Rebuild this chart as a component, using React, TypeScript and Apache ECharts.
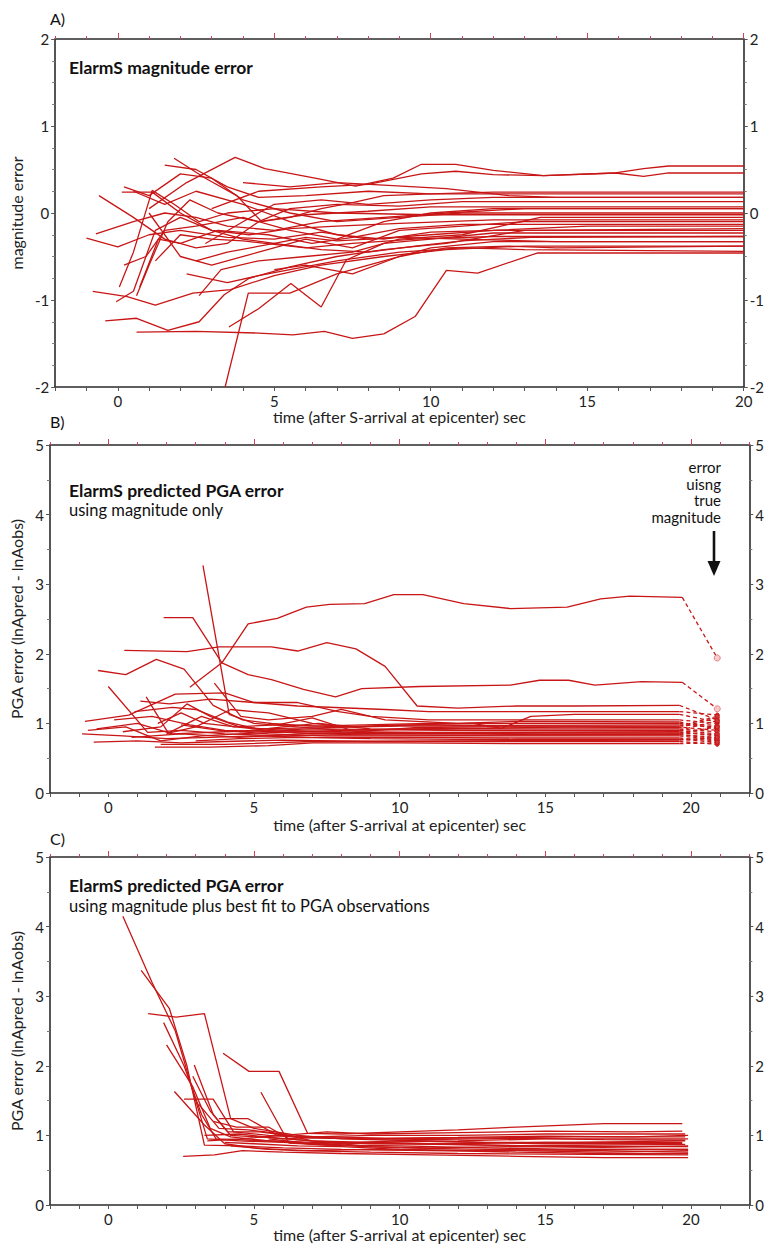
import React, { useEffect, useRef } from "react";
import * as echarts from "echarts";

// ---------- tick labels ----------
const timeTickLabels = [0, 5, 10, 15, 20];
const timeMajorTicks = [0, 5, 10, 15, 20];
const magTickValues = [-2, -1, 0, 1, 2];
const pgaTickValues = [0, 1, 2, 3, 4, 5];

// ---------- panel A: magnitude error (time, error) ----------
const magErrLines: number[][][] = [
  [[1.8, 0.63], [2.8, 0.4], [3.8, 0.2], [4.6, -0.1], [5.5, -0.05], [6.5, 0.05], [7.5, 0.12], [8.5, 0.2], [10, 0.22], [12, 0.24], [14, 0.24], [20, 0.24]],
  [[1.0, 0.05], [2.2, 0.35], [3.75, 0.64], [4.7, 0.51], [6.3, 0.4], [7.6, 0.31], [8.8, 0.4], [9.7, 0.56], [10.8, 0.56], [12, 0.49], [13.6, 0.43], [15.9, 0.46], [16.8, 0.51], [17.6, 0.54], [20, 0.54]],
  [[3.0, 0.05], [4.5, 0.25], [6.5, 0.3], [8.0, 0.33], [9.7, 0.45], [10.8, 0.48], [12, 0.44], [13.6, 0.43], [15.9, 0.46], [16.8, 0.42], [17.6, 0.46], [20, 0.46]],
  [[-1.0, -0.29], [0.0, -0.39], [1.0, -0.25], [2.0, -0.2], [3.5, -0.28], [5, -0.3], [6.5, -0.22], [8, -0.3], [10, -0.25], [12, -0.2], [14, -0.2], [20, -0.2]],
  [[-0.6, 0.2], [0.5, -0.05], [1.5, -0.3], [2.5, -0.4], [3.5, -0.35], [4.5, -0.1], [5.5, 0.05], [7, 0.1], [9, 0.08], [11, 0.13], [20, 0.13]],
  [[-0.7, -0.24], [0.5, -0.1], [1.5, 0.0], [2.5, -0.05], [3.5, -0.15], [5, -0.2], [6.5, -0.1], [8.5, -0.05], [10.5, 0.0], [13, 0.05], [20, 0.05]],
  [[0.13, 0.24], [1.1, 0.24], [2.0, 0.0], [3.0, -0.2], [4.0, -0.3], [5.0, -0.35], [6.0, -0.28], [7.0, -0.32], [9.0, -0.28], [11, -0.3], [14, -0.33], [20, -0.33]],
  [[0.05, -0.85], [0.5, -0.45], [1.1, 0.26], [1.8, 0.1], [2.6, -0.1], [3.5, 0.0], [5.0, 0.05], [7, 0.0], [10, -0.02], [20, -0.02]],
  [[-0.05, -1.02], [0.5, -0.9], [1.2, -0.2], [2.0, -0.05], [3.0, -0.2], [4.2, -0.25], [5.5, -0.18], [7, -0.15], [9, -0.12], [12, -0.08], [20, -0.08]],
  [[0.6, -0.95], [1.0, -0.6], [1.6, -0.1], [2.3, 0.15], [3.2, 0.0], [4.5, -0.1], [6, -0.02], [8, 0.02], [10, 0.07], [20, 0.07]],
  [[0.7, -0.85], [1.3, -0.3], [2.0, -0.35], [3.2, -0.2], [4.8, -0.25], [6.2, -0.35], [7.5, -0.28], [9, -0.18], [11, -0.13], [20, -0.13]],
  [[1.2, -0.55], [2.0, -0.25], [3.0, -0.3], [4.0, -0.32], [6.0, -0.4], [7.5, -0.35], [9.5, -0.3], [12, -0.27], [20, -0.27]],
  [[-0.8, -0.9], [0.3, -0.96], [1.2, -1.06], [2.4, -0.92], [3.6, -0.88], [5.0, -0.72], [6.5, -0.6], [8.5, -0.5], [10.5, -0.42], [13, -0.38], [20, -0.38]],
  [[-0.4, -1.24], [0.6, -1.21], [1.6, -1.35], [2.6, -1.25], [3.4, -0.94], [4.2, -0.75], [5.5, -0.62], [7, -0.5], [8.5, -0.42], [10.5, -0.35], [13, -0.2], [20, -0.18]],
  [[0.6, -1.37], [2.5, -1.36], [4.5, -1.38], [5.6, -1.4], [6.6, -1.36], [7.5, -1.44], [8.5, -1.39], [9.5, -1.19], [10.5, -0.66], [11.5, -0.69], [13.4, -0.46], [20, -0.46]],
  [[3.43, -2.0], [4.17, -0.92], [5.5, -0.92], [7.0, -0.7], [8.5, -0.55], [10, -0.4], [12, -0.33], [20, -0.33]],
  [[3.55, -1.31], [4.5, -1.1], [5.53, -0.81], [6.5, -1.08], [7.3, -0.54], [8.5, -0.35], [10, -0.3], [12, -0.23], [20, -0.23]],
  [[2.2, -0.7], [3.5, -0.8], [4.5, -0.72], [5.5, -0.65], [7, -0.55], [9, -0.45], [11, -0.4], [13, -0.42], [20, -0.44]],
  [[2.8, -0.35], [4.0, -0.1], [5.0, 0.1], [6.5, 0.15], [8, 0.1], [10, 0.15], [12, 0.18], [20, 0.18]],
  [[1.5, 0.55], [2.5, 0.5], [3.5, 0.3], [4.5, 0.18], [6, 0.2], [8, 0.25], [10, 0.22], [12, 0.22], [20, 0.22]],
  [[0.2, 0.3], [1.0, 0.2], [2.0, 0.45], [3.0, 0.4], [4.0, 0.15], [5.5, 0.0], [7.0, -0.1], [9, -0.05], [11, 0.0], [20, 0.0]],
  [[4.0, 0.35], [5.5, 0.3], [7, 0.35], [8.5, 0.32], [10.5, 0.28], [12.5, 0.2], [14, 0.18], [20, 0.18]],
  [[2.5, -0.55], [3.5, -0.45], [5, -0.35], [6.5, -0.42], [8, -0.45], [9.5, -0.38], [11, -0.32], [13.2, -0.28], [20, -0.27]],
  [[1.0, 0.0], [2.0, -0.5], [3, -0.6], [4.5, -0.45], [6, -0.3], [7.5, -0.4], [9, -0.2], [11, -0.15], [13, -0.1], [20, -0.1]],
  [[0.5, 0.25], [1.5, 0.1], [2.5, 0.25], [4, 0.1], [5.5, -0.1], [7, -0.25], [8.5, -0.3], [10, -0.22], [12, -0.2], [15, -0.15], [20, -0.15]],
  [[2.6, -0.95], [3.3, -0.65], [4.5, -0.55], [6, -0.5], [7.5, -0.45], [9, -0.3], [11, -0.25], [13.5, -0.05], [16, -0.05], [20, -0.05]],
  [[0.2, -0.6], [0.9, -0.5], [1.5, -0.2], [2.5, -0.15], [4.0, -0.05], [5.5, -0.2], [7, -0.3], [8.5, -0.1], [10, 0.0], [12, 0.05], [20, 0.05]],
  [[5.0, -0.65], [6.0, -0.6], [7.5, -0.7], [9, -0.5], [10.5, -0.4], [12.5, -0.38], [14, -0.4], [20, -0.38]],
];

// ---------- panel B: PGA error, magnitude only ----------
const pgaMagLines: number[][][] = [
  [[2.8, 1.52], [3.9, 1.87], [4.8, 2.43], [5.8, 2.51], [6.8, 2.67], [7.6, 2.71], [8.8, 2.72], [9.8, 2.85], [10.8, 2.85], [12.2, 2.72], [13.8, 2.65], [15.75, 2.67], [16.9, 2.79], [17.9, 2.83], [19.7, 2.81]],
  [[3.25, 3.27], [4.15, 1.13], [5.0, 1.0], [6.5, 0.95], [8, 0.9], [10, 0.92], [13, 0.93], [16, 0.95], [19.5, 0.95]],
  [[1.9, 2.52], [2.9, 2.52], [3.9, 1.87], [4.8, 1.7], [5.6, 1.63], [6.7, 1.49], [7.8, 1.38], [8.7, 1.5], [10.7, 1.53], [13.8, 1.55], [14.8, 1.62], [15.8, 1.62], [16.7, 1.55], [18.3, 1.6], [19.7, 1.59]],
  [[0.55, 2.05], [2.7, 2.03], [3.8, 2.1], [5.6, 2.1], [6.5, 2.04], [7.5, 2.16], [8.5, 2.07], [9.5, 1.82], [10.6, 1.25], [12, 1.22], [14, 1.25], [16, 1.25], [19.6, 1.26]],
  [[-0.35, 1.76], [0.6, 1.7], [1.65, 1.92], [2.6, 1.78], [3.6, 1.26], [4.6, 1.05], [6, 0.98], [8, 0.95], [10, 0.98], [13, 0.97], [19.6, 0.98]],
  [[0, 1.53], [1.35, 0.87], [2.5, 0.9], [4, 0.85], [6, 0.82], [8, 0.84], [12, 0.83], [19.6, 0.84]],
  [[-0.8, 1.03], [0.7, 1.12], [2.3, 1.42], [4.0, 1.44], [5.0, 1.3], [6.5, 1.3], [7.9, 1.17], [9, 1.1], [11, 1.05], [13, 1.05], [19.6, 1.05]],
  [[3.64, 1.58], [4.55, 1.1], [5.5, 1.05], [7, 1.1], [8, 1.2], [9.5, 1.05], [12, 1.0], [14, 1.03], [19.6, 1.02]],
  [[1.3, 1.38], [2.06, 0.86], [3, 0.95], [4.2, 1.2], [5.5, 1.15], [7, 1.0], [9, 0.92], [12, 0.9], [19.6, 0.9]],
  [[-0.9, 0.85], [0.5, 0.82], [2, 0.78], [3.5, 0.8], [5, 0.82], [7, 0.8], [10, 0.8], [14, 0.79], [19.6, 0.79]],
  [[-0.5, 0.73], [1.0, 0.75], [2.5, 0.72], [4, 0.74], [6, 0.76], [9, 0.74], [13, 0.74], [19.6, 0.74]],
  [[1.6, 0.66], [3.5, 0.66], [5.5, 0.68], [7, 0.72], [10, 0.72], [14, 0.71], [19.6, 0.71]],
  [[0.5, 0.88], [1.8, 0.95], [2.7, 1.28], [3.5, 1.1], [4.5, 0.95], [6, 0.9], [8, 0.88], [11, 0.87], [19.6, 0.88]],
  [[0.9, 1.17], [2.2, 1.23], [3.0, 1.2], [4.1, 1.02], [5.3, 0.9], [7, 0.85], [10, 0.86], [14, 0.84], [19.6, 0.84]],
  [[2.0, 0.85], [3.2, 1.1], [4.3, 0.95], [5.8, 0.98], [7.0, 1.08], [8.5, 0.88], [10.5, 0.94], [13, 0.95], [19.6, 0.94]],
  [[1.1, 1.32], [2.1, 1.28], [3.5, 1.35], [5, 1.3], [6.5, 1.25], [9.5, 1.2], [11, 1.17], [13, 1.17], [19.6, 1.17]],
  [[4.5, 0.88], [6, 0.95], [7.2, 1.0], [8.5, 0.95], [10.5, 0.98], [12.5, 1.0], [13.5, 0.93], [14.5, 1.1], [16, 1.13], [19.6, 1.13]],
  [[-0.7, 0.9], [0.6, 0.95], [1.8, 0.75], [3.2, 0.82], [5, 0.86], [8, 0.9], [12, 0.92], [19.6, 0.92]],
  [[2.5, 0.98], [3.8, 0.9], [5.5, 0.85], [7.5, 0.82], [10, 0.82], [15, 0.82], [19.6, 0.82]],
  [[0.2, 1.05], [1.5, 1.1], [2.8, 0.98], [4, 0.9], [6, 0.88], [9, 0.87], [19.6, 0.86]],
  [[3.0, 0.75], [4.5, 0.78], [6.5, 0.8], [9, 0.78], [12, 0.77], [19.6, 0.77]],
  [[5.5, 1.0], [7, 0.96], [8.8, 0.98], [11, 1.0], [19.6, 1.0]],
  [[1.7, 1.0], [2.5, 1.15], [3.3, 1.0], [5.0, 0.92], [7.5, 0.94], [10, 0.96], [19.6, 0.96]],
  [[0.8, 0.8], [2.5, 0.85], [4.5, 0.8], [7, 0.86], [11, 0.85], [15, 0.86], [19.6, 0.86]],
  [[1.8, 0.7], [4, 0.7], [7, 0.74], [12, 0.75], [19.6, 0.76]],
  [[-0.4, 0.92], [1, 1.0], [2.2, 0.85], [4, 0.88], [7, 0.92], [12, 0.9], [19.6, 0.9]],
];
// error using true magnitude (one per line above), plotted at t = 20.9
const trueMagTime = 20.9;
const trueMagErrors = [1.94, 0.9, 1.21, 1.05, 0.95, 0.8, 1.0, 0.92, 0.85, 0.75, 0.7, 0.72, 0.82, 0.78, 1.08, 1.12, 1.02, 0.88, 0.76, 0.84, 0.73, 0.97, 1.1, 0.95, 0.8, 1.04];

// ---------- panel C: PGA error, magnitude + best fit ----------
const pgaFitLines: number[][][] = [
  [[0.5, 4.15], [1.5, 3.2], [2.3, 2.5], [3.0, 1.5], [3.4, 0.95], [4.5, 0.92], [6, 0.9], [8, 0.86], [10, 0.85], [13, 0.82], [16, 0.8], [19.9, 0.8]],
  [[1.13, 3.37], [2.1, 2.82], [2.7, 2.0], [3.3, 0.86], [4.5, 0.85], [6, 0.82], [8, 0.8], [11, 0.78], [14, 0.78], [17, 0.76], [19.9, 0.78]],
  [[1.37, 2.75], [2.33, 2.7], [3.3, 2.75], [4.2, 1.24], [5, 1.1], [6.5, 1.0], [8, 0.95], [10, 0.93], [13, 0.9], [16, 0.9], [19.8, 0.92]],
  [[3.94, 2.18], [4.83, 1.92], [5.86, 1.92], [6.84, 1.03], [8, 1.02], [10, 1.05], [12, 1.08], [14, 1.12], [17, 1.17], [19.7, 1.17]],
  [[5.24, 1.62], [6.2, 0.89], [7.5, 0.86], [9, 0.9], [11, 0.88], [14, 0.85], [17, 0.86], [19.8, 0.87]],
  [[2.95, 2.01], [3.6, 1.3], [4.2, 1.0], [5.5, 0.97], [7, 0.92], [9, 0.9], [12, 0.92], [15, 0.95], [19.9, 0.95]],
  [[2.27, 1.63], [3.3, 1.15], [4.0, 0.88], [5, 0.82], [6.5, 0.78], [9, 0.76], [12, 0.74], [15, 0.73], [19.9, 0.72]],
  [[2.6, 1.52], [3.6, 1.52], [4.3, 1.05], [5.5, 1.0], [7, 0.96], [9, 0.95], [12, 0.96], [16, 0.98], [19.8, 0.98]],
  [[2.57, 0.7], [3.65, 0.72], [4.6, 0.78], [6, 0.76], [8, 0.74], [11, 0.72], [14, 0.7], [17, 0.68], [19.9, 0.68]],
  [[1.9, 2.62], [2.6, 2.0], [3.2, 1.3], [3.7, 0.95], [5, 0.93], [7, 0.9], [10, 0.88], [13, 0.86], [16, 0.84], [19.9, 0.84]],
  [[3.8, 1.24], [4.8, 1.24], [5.8, 1.0], [7, 0.98], [9, 1.0], [12, 1.0], [15, 1.02], [19.8, 1.02]],
  [[2.0, 2.3], [2.9, 1.7], [3.5, 1.1], [4.2, 0.98], [5.5, 0.92], [7.5, 0.86], [10, 0.82], [13, 0.8], [17, 0.78], [19.9, 0.76]],
  [[3.1, 1.45], [3.8, 1.1], [4.8, 1.08], [6.0, 1.02], [7, 0.92], [9, 0.88], [12, 0.88], [15, 0.9], [19.7, 0.9]],
  [[2.9, 1.85], [3.5, 1.35], [4.1, 1.05], [5.2, 1.05], [6.5, 0.98], [8, 0.96], [11, 0.94], [14, 0.96], [17, 0.94], [19.8, 0.93]],
  [[4.0, 0.9], [5, 0.88], [6.5, 0.85], [8, 0.84], [10, 0.8], [13, 0.78], [16, 0.8], [19.9, 0.8]],
  [[3.3, 1.0], [4.5, 1.02], [6, 0.95], [7.5, 0.98], [9.5, 0.96], [12, 0.97], [15, 0.99], [18, 0.98], [19.9, 1.0]],
  [[3.6, 1.2], [4.4, 1.12], [5.5, 1.12], [6.2, 0.95], [7.5, 0.9], [9, 0.84], [11, 0.82], [14, 0.84], [17, 0.83], [19.9, 0.85]],
  [[5.5, 0.95], [7, 0.88], [8.5, 0.9], [10, 0.92], [12.5, 0.9], [15, 0.88], [19.7, 0.88]],
  [[4.2, 0.85], [5.5, 0.8], [7, 0.78], [9, 0.8], [11.5, 0.78], [14, 0.76], [17, 0.74], [19.9, 0.74]],
  [[3.4, 0.92], [4.5, 0.95], [6, 1.0], [7.5, 1.05], [9, 1.02], [12, 1.04], [15, 1.06], [18, 1.05], [19.7, 1.06]],
];

const RED = "#c81616";
const TICK_RED = "#d2405e";
const AXIS = "#2b2b2b";
const FONT = "Lato";

function range(a: number, b: number) {
  const r: number[] = [];
  for (let v = a; v <= b; v++) r.push(v);
  return r;
}

function buildOption() {
  const grids = [
    { left: 50, top: 39, width: 701, height: 348 },
    { left: 50, top: 445, width: 701, height: 348 },
    { left: 50, top: 857, width: 702, height: 348 },
  ];
  const xMax = [20, 22, 22];
  const xNameGap = [19, 23, 18];
  const yCfg = [
    { min: -2, max: 2, ticks: magTickValues, minor: 4, name: "magnitude error" },
    { min: 0, max: 5, ticks: pgaTickValues, minor: 2, name: "PGA error (lnApred - lnAobs)" },
    { min: 0, max: 5, ticks: pgaTickValues, minor: 2, name: "PGA error (lnApred - lnAobs)" },
  ];
  const labelStyle = { fontFamily: FONT, fontSize: 15, color: "#222" };
  const nameStyle = { fontFamily: FONT, fontSize: 16, color: "#222" };

  const xAxis: any[] = [];
  const yAxis: any[] = [];
  grids.forEach((_, i) => {
    const ints = range(-2, xMax[i]);
    xAxis.push({
      type: "value", gridIndex: i, position: "bottom", min: -2, max: xMax[i],
      axisLine: { show: true, onZero: false, lineStyle: { color: AXIS, width: 1.6 } },
      axisTick: { show: true, customValues: ints, length: 4, lineStyle: { color: "#555", width: 1 } },
      axisLabel: { customValues: timeTickLabels, margin: 6, ...labelStyle },
      splitLine: { show: false },
      name: "time (after S-arrival at epicenter) sec", nameLocation: "middle", nameGap: xNameGap[i],
      nameTextStyle: nameStyle,
    });
    xAxis.push({
      type: "value", gridIndex: i, position: "top", min: -2, max: xMax[i],
      axisLine: { show: true, onZero: false, lineStyle: { color: AXIS, width: 1.6 } },
      axisTick: { show: true, customValues: timeMajorTicks, length: 6, lineStyle: { color: TICK_RED, width: 1 } },
      axisLabel: { show: false }, splitLine: { show: false },
    });
    xAxis.push({
      type: "value", gridIndex: i, position: "top", min: -2, max: xMax[i],
      axisLine: { show: false, onZero: false },
      axisTick: { show: true, customValues: ints, length: 3, lineStyle: { color: TICK_RED, width: 1 } },
      axisLabel: { show: false }, splitLine: { show: false },
    });
    const y = yCfg[i];
    const yBase = {
      type: "value", gridIndex: i, min: y.min, max: y.max, interval: 1,
      axisLine: { show: true, onZero: false, lineStyle: { color: AXIS, width: 1.6 } },
      axisTick: { show: true, length: 4, lineStyle: { color: "#555" } },
      minorTick: { show: true, splitNumber: y.minor, length: 3, lineStyle: { color: "#777" } },
      axisLabel: { margin: 6, ...labelStyle },
      splitLine: { show: false },
    };
    yAxis.push({
      ...yBase, position: "left",
      name: y.name, nameLocation: "middle", nameGap: 25,
      nameTextStyle: nameStyle,
    });
    yAxis.push({ ...yBase, position: "right" });
  });

  const series: any[] = [];
  const addLines = (lines: number[][][], g: number) => {
    lines.forEach((pts) => {
      series.push({
        type: "line", xAxisIndex: g * 3, yAxisIndex: g * 2, data: pts,
        showSymbol: false, symbol: "none", silent: true,
        lineStyle: { color: RED, width: 1.3 }, z: 3,
      });
    });
  };
  addLines(magErrLines, 0);
  addLines(pgaMagLines, 1);
  addLines(pgaFitLines, 2);

  pgaMagLines.forEach((pts, k) => {
    const last = pts[pts.length - 1];
    const isolated = trueMagErrors[k] > 1.15;
    series.push({
      type: "line", xAxisIndex: 3, yAxisIndex: 2,
      data: [
        { value: last, symbol: "none" },
        { value: [trueMagTime, trueMagErrors[k]] },
      ],
      showSymbol: true, symbol: "circle", symbolSize: isolated ? 6 : 4, silent: true,
      itemStyle: isolated
        ? { color: "rgba(248,200,200,0.9)", borderColor: "#e48080", borderWidth: 1 }
        : { color: "#d23a3a", borderColor: RED, borderWidth: 1 },
      lineStyle: { color: RED, width: 1.3, type: [4, 3] }, z: 3,
    });
  });

  const txt = (x: number, y: number, text: string, size: number, bold = false, align = "left") => ({
    type: "text", x, y,
    style: { text, fill: "#111", font: `${bold ? "bold " : ""}${size}px ${FONT}`, textAlign: align, textVerticalAlign: "middle" },
    z: 10,
  });

  const graphic: any[] = [
    txt(50, 18, "A)", 16),
    txt(50, 421, "B)", 16),
    txt(50, 838, "C)", 16),
    txt(69, 67, "ElarmS magnitude error", 17.5, true),
    txt(69, 490, "ElarmS predicted PGA error", 17.5, true),
    txt(69, 510, "using magnitude only", 16.5),
    txt(69, 885, "ElarmS predicted PGA error", 17.5, true),
    txt(69, 906, "using magnitude plus best fit to PGA observations", 16.5),
    txt(721, 467, "error", 15, false, "right"),
    txt(721, 484, "uisng", 15, false, "right"),
    txt(721, 500, "true", 15, false, "right"),
    txt(721, 517, "magnitude", 15, false, "right"),
    { type: "line", shape: { x1: 714, y1: 531, x2: 714, y2: 565 }, style: { stroke: "#111", lineWidth: 2.6 }, z: 10 },
    { type: "polygon", shape: { points: [[707.5, 561], [720.5, 561], [714, 576]] }, style: { fill: "#111" }, z: 10 },
  ];

  return { animation: false, backgroundColor: "#fff", grid: grids, xAxis, yAxis, series, graphic };
}

export default function App() {
  const ref = useRef<HTMLDivElement>(null);
  useEffect(() => {
    const chart = echarts.init(ref.current!, null, { renderer: "svg" });
    chart.setOption(buildOption() as any);
    return () => chart.dispose();
  }, []);
  return (
    <div
      ref={ref}
      style={{ position: "absolute", left: 0, top: 0, width: 767, height: 1247, background: "#fff" }}
    />
  );
}
